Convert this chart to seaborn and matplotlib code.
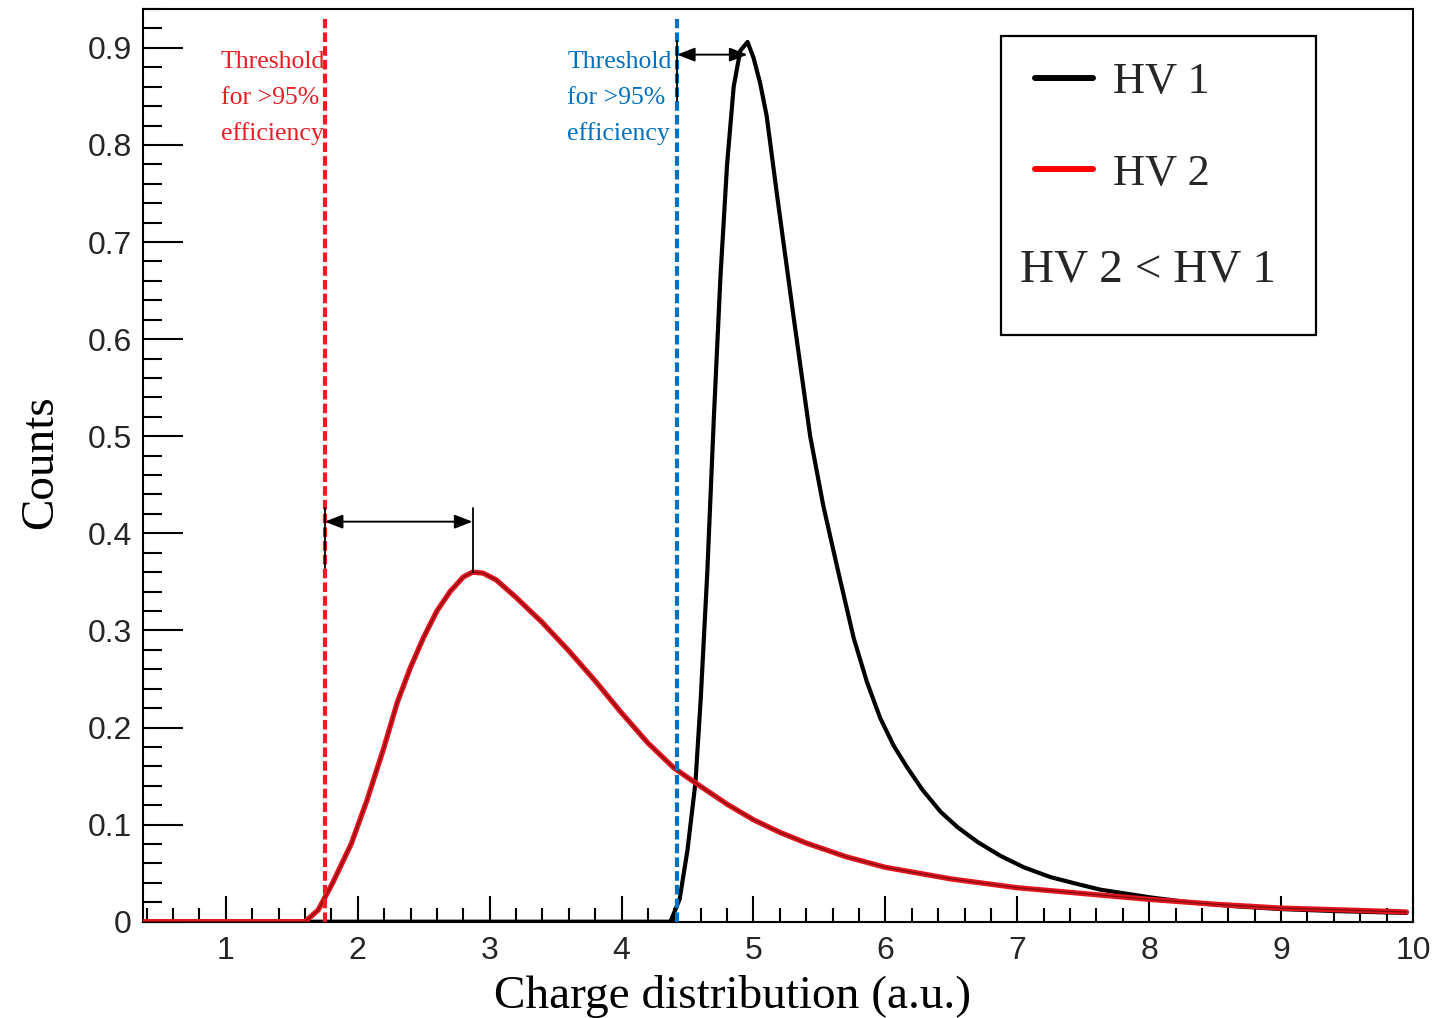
import numpy as np
import pandas as pd
import matplotlib
matplotlib.use("Agg")
import matplotlib.pyplot as plt
import seaborn as sns
from matplotlib.lines import Line2D
from matplotlib.patches import Rectangle
from matplotlib.ticker import MultipleLocator

# ---------------- data ----------------
hv1_x = [0.37, 4.37, 4.44, 4.50, 4.56, 4.60, 4.65, 4.70, 4.75, 4.80, 4.85, 4.90,
         4.955, 5.00, 5.05, 5.10, 5.18, 5.30, 5.43, 5.53, 5.64, 5.76, 5.86, 5.96, 6.06,
         6.16, 6.28, 6.42, 6.55, 6.70, 6.87, 7.05, 7.25, 7.45, 7.63, 8.01, 8.30, 8.64,
         9.00, 9.40, 9.95]
hv1_y = [0.0, 0.0, 0.023, 0.074, 0.143, 0.229, 0.360, 0.520, 0.665, 0.780, 0.860, 0.897,
         0.906, 0.890, 0.864, 0.830, 0.747, 0.627, 0.500, 0.428, 0.362, 0.292, 0.247, 0.210, 0.182,
         0.160, 0.136, 0.113, 0.097, 0.082, 0.068, 0.056, 0.046, 0.039, 0.033, 0.025, 0.020, 0.016,
         0.013, 0.011, 0.009]

hv2_x = [0.37, 1.60, 1.70, 1.81, 1.95, 2.07, 2.20, 2.30, 2.40, 2.50, 2.60, 2.70, 2.80,
         2.87, 2.95, 3.05, 3.20, 3.40, 3.60, 3.80, 4.00, 4.20, 4.40, 4.56, 4.80, 5.00,
         5.20, 5.40, 5.70, 6.00, 6.50, 7.00, 7.50, 8.00, 8.50, 9.00, 9.50, 9.95]
hv2_y = [0.0, 0.0, 0.012, 0.040, 0.080, 0.125, 0.180, 0.226, 0.262, 0.293, 0.320, 0.340, 0.355,
         0.360, 0.359, 0.352, 0.334, 0.308, 0.279, 0.248, 0.215, 0.184, 0.158, 0.143, 0.121, 0.105,
         0.092, 0.081, 0.067, 0.056, 0.044, 0.035, 0.029, 0.023, 0.018, 0.014, 0.012, 0.010]

series_labels = ["HV 1", "HV 2"]
threshold_x = [1.75, 4.42]          # HV2 threshold, HV1 threshold
peak_x = [2.87, 4.955]              # HV2 peak, HV1 peak
peak_y = [0.360, 0.906]
arrow_y = [0.412, 0.893]
threshold_colors = ["#ee1c25", "#0070c0"]
annot_lines = ["Threshold", "for >95%", "efficiency"]
annot_left_x = [0.962, 3.587]

xlim = (0.372, 10.0)
ylim = (0.0, 0.9405)

# ---------------- figure ----------------
sns.set_theme(style="ticks")
plt.rcParams["font.family"] = ["Liberation Serif", "DejaVu Serif"]

fig = plt.figure(figsize=(14.33, 10.18), dpi=100)
ax = fig.add_axes([143 / 1433, 96.3 / 1018, 1270 / 1433, 913.2 / 1018])

df1 = pd.DataFrame({"x": hv1_x, "y": hv1_y})
df2 = pd.DataFrame({"x": hv2_x, "y": hv2_y})
sns.lineplot(data=df1, x="x", y="y", ax=ax, color="black", lw=3.0, sort=False, zorder=3)
sns.lineplot(data=df2, x="x", y="y", ax=ax, color="#e3141c", lw=3.8, sort=False, zorder=4)
sns.lineplot(data=df2, x="x", y="y", ax=ax, color="#7a0f12", lw=0.9, sort=False, zorder=5)

# threshold lines
for tx, c in zip(threshold_x, threshold_colors):
    ax.plot([tx, tx], [0, 0.93], color=c, lw=3.0, dashes=(2.3, 1.0), zorder=6)

# arrows and vertical markers
for tx, px, py, ay in zip(threshold_x, peak_x, peak_y, arrow_y):
    ax.annotate("", xy=(px, ay), xytext=(tx, ay),
                arrowprops=dict(arrowstyle="<|-|>,head_length=0.9,head_width=0.35",
                                color="black", lw=1.4, shrinkA=0, shrinkB=0), zorder=7)
    ax.plot([tx, tx], [ay + 0.014, ay - 0.048], color="black", lw=1.3, zorder=7)
    ax.plot([px, px], [ay + 0.014, py], color="black", lw=1.3, zorder=7)

# threshold annotation texts
line_y = [0.8855, 0.8484, 0.8113]
for lx, c in zip(annot_left_x, threshold_colors):
    for txt, yy in zip(annot_lines, line_y):
        ax.text(lx, yy, txt, color=c, fontsize=18.5, ha="left", va="center",
                family=["Liberation Serif"])

# axes styling
ax.set_xlim(*xlim)
ax.set_ylim(*ylim)
ax.xaxis.set_minor_locator(MultipleLocator(0.2))
ax.yaxis.set_minor_locator(MultipleLocator(0.02))
ax.set_xticks(np.arange(1, 11))
ax.set_xticklabels([str(i) for i in range(1, 11)])
ax.set_yticks(np.round(np.arange(0, 1.0, 0.1), 1))
ax.set_yticklabels(["0"] + [f"{v:.1f}" for v in np.arange(0.1, 0.95, 0.1)])

for lab in ax.get_xticklabels() + ax.get_yticklabels():
    lab.set_family(["Liberation Sans"])
    lab.set_fontsize(23)
    lab.set_color("#262626")

ax.tick_params(axis="y", which="major", direction="in", length=29, width=1.5, pad=8,
               left=True, right=False, colors="black", labelcolor="#262626")
ax.tick_params(axis="y", which="minor", direction="in", length=14, width=1.5,
               left=True, right=False, colors="black")
ax.tick_params(axis="x", which="major", direction="in", length=19, width=1.5, pad=10,
               bottom=True, top=False, colors="black", labelcolor="#262626")
ax.tick_params(axis="x", which="minor", direction="in", length=10, width=1.5,
               bottom=True, top=False, colors="black")
for side in ["left", "bottom", "right", "top"]:
    ax.spines[side].set_visible(True)
    ax.spines[side].set_color("black")
    ax.spines[side].set_linewidth(1.5)
ax.grid(False)

ax.set_xlabel("Charge distribution (a.u.)", fontsize=34, color="black")
ax.set_ylabel("Counts", fontsize=34, color="black")
ax.xaxis.set_label_coords((733 - 143) / 1270, (921.7 - 997) / 913.2)
ax.xaxis.label.set_va("center")
ax.yaxis.set_label_coords((62 - 143) / 1270, (921.7 - 462) / 913.2)

# legend box
box = Rectangle((0.6756, 0.6425), 0.9236 - 0.6756, 0.970 - 0.6425, transform=ax.transAxes,
                facecolor="white", edgecolor="black", lw=1.6, zorder=8)
ax.add_patch(box)
handles = [Line2D([], [], color="black", lw=4.3), Line2D([], [], color="#ff0000", lw=4.3)]
leg = ax.legend(handles, series_labels, loc="upper left", bbox_to_anchor=(0.7024, 0.9412),
                frameon=False, fontsize=32, handlelength=1.3, handletextpad=0.45,
                labelspacing=1.15, borderpad=0, borderaxespad=0)
leg.set_zorder(9)
ax.text((1020 - 143) / 1270, (921.7 - 270) / 913.2, "HV 2 < HV 1", transform=ax.transAxes,
        fontsize=34, ha="left", va="center", zorder=9)

fig.savefig("out.png", dpi=100, facecolor="white")
